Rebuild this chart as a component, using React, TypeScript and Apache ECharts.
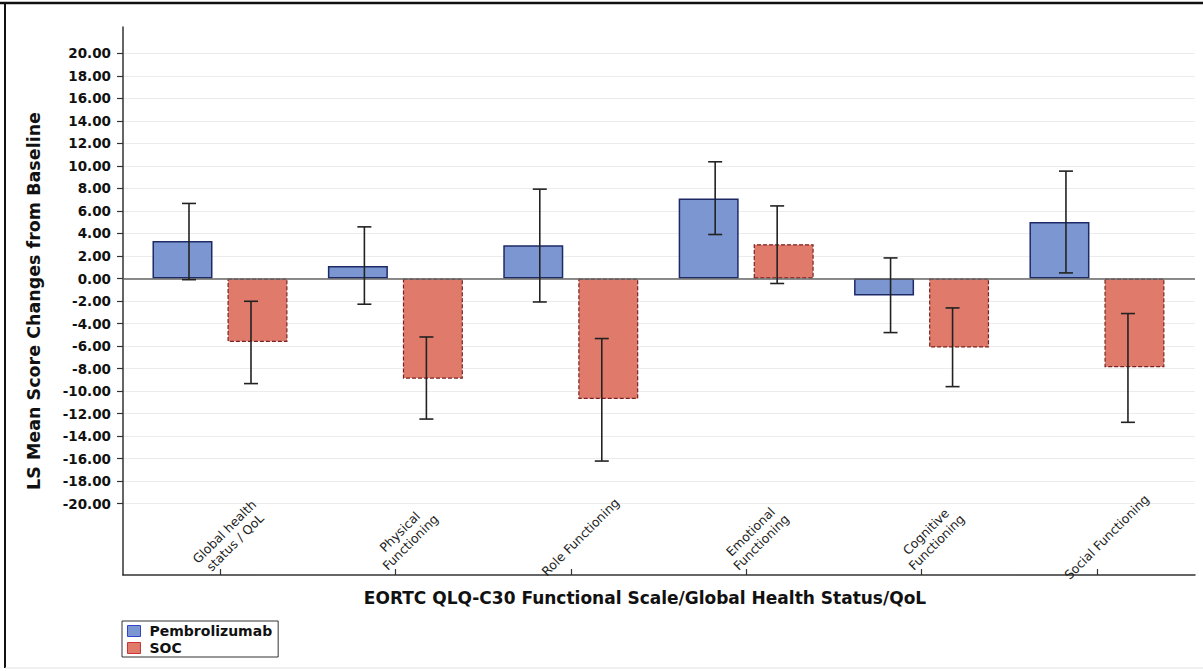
import React, { useEffect, useRef } from "react";
import * as echarts from "echarts";

const categories = [
  "Global health\nstatus / QoL",
  "Physical\nFunctioning",
  "Role Functioning",
  "Emotional\nFunctioning",
  "Cognitive\nFunctioning",
  "Social Functioning",
];
const pembroMean = [3.34, 1.12, 2.96, 7.11, -1.51, 5.03];
const pembroLow = [-0.1, -2.28, -2.08, 3.91, -4.8, 0.5];
const pembroHigh = [6.67, 4.59, 7.94, 10.37, 1.83, 9.54];
const socMean = [-5.63, -8.89, -10.7, 3.05, -6.13, -7.88];
const socLow = [-9.33, -12.48, -16.21, -0.44, -9.6, -12.77];
const socHigh = [-2.02, -5.19, -5.33, 6.45, -2.61, -3.11];
const yTicks = [-20, -18, -16, -14, -12, -10, -8, -6, -4, -2, 0, 2, 4, 6, 8, 10, 12, 14, 16, 18, 20];

const FONT = "DejaVu Sans";
const LABEL_SHIFT = 0.055;

function errRenderer(offset: number) {
  return (params: any, api: any) => {
    const xv = api.value(0);
    const x = api.coord([xv, 0])[0] + offset;
    const yLo = api.coord([xv, api.value(1)])[1];
    const yHi = api.coord([xv, api.value(2)])[1];
    const style = { stroke: "#222", lineWidth: 1.6 };
    return {
      type: "group",
      children: [
        { type: "line", shape: { x1: x, y1: yHi, x2: x, y2: yLo }, style },
        { type: "line", shape: { x1: x - 7, y1: yHi, x2: x + 7, y2: yHi }, style },
        { type: "line", shape: { x1: x - 7, y1: yLo, x2: x + 7, y2: yLo }, style },
      ],
    };
  };
}

export default function App() {
  const ref = useRef<HTMLDivElement>(null);
  useEffect(() => {
    if (!ref.current) return;
    const chart = echarts.init(ref.current, undefined, { renderer: "svg" });
    const idx = categories.map((_, i) => i);
    const option: any = {
      animation: false,
      backgroundColor: "#fff",
      textStyle: { fontFamily: FONT },
      grid: { left: 123, right: 8, top: 27, bottom: 96, containLabel: false, outerBoundsMode: "none" },
      legend: {
        left: 122,
        top: 621,
        orient: "vertical",
        itemGap: 3,
        itemWidth: 13,
        itemHeight: 11,
        padding: [3, 6, 2, 5],
        borderColor: "#333",
        borderWidth: 1,
        textStyle: { fontFamily: FONT, fontWeight: "bold", fontSize: 14, color: "#111", padding: [0, 0, 0, 4] },
        data: [
          { name: "Pembrolizumab", icon: "rect", itemStyle: { color: "#7b96d0", borderColor: "#3344cc", borderWidth: 1, borderType: "solid" } },
          { name: "SOC", icon: "rect", itemStyle: { color: "#e07b6b", borderColor: "#cc3333", borderWidth: 1, borderType: "solid" } },
        ],
      },
      xAxis: {
        type: "value",
        min: -0.553,
        max: 5.559,
        name: "EORTC QLQ-C30 Functional Scale/Global Health Status/QoL",
        nameLocation: "middle",
        nameGap: 8,
        nameTextStyle: {
          fontFamily: FONT,
          fontWeight: "bold",
          fontSize: 17,
          color: "#111",
          verticalAlign: "top",
          padding: [0, 28, 0, 0],
        },
        axisLine: { show: true, onZero: false, lineStyle: { color: "#333", width: 1.5 } },
        axisTick: { show: true, inside: true, length: 6, customValues: idx, lineStyle: { color: "#333", width: 1.2 } },
        axisLabel: {
          inside: true,
          rotate: 45,
          margin: 38,
          align: "center",
          verticalAlign: "middle",
          lineHeight: 15,
          fontFamily: FONT,
          fontSize: 12.5,
          color: "#222",
          customValues: idx.map((i) => i + LABEL_SHIFT),
          formatter: (v: number) => categories[Math.round(v)] ?? "",
        },
        splitLine: { show: false },
      },
      yAxis: {
        type: "value",
        min: -26.33,
        max: 22.34,
        name: "LS Mean Score Changes from Baseline",
        nameLocation: "middle",
        nameGap: 80,
        nameTextStyle: { fontFamily: FONT, fontWeight: "bold", fontSize: 17.5, color: "#111" },
        axisLine: { show: true, onZero: false, lineStyle: { color: "#333", width: 1.5 } },
        axisTick: { show: true, length: 6, customValues: yTicks, lineStyle: { color: "#333", width: 1.2 } },
        axisLabel: {
          margin: 12,
          fontFamily: FONT,
          fontWeight: "bold",
          fontSize: 13.5,
          color: "#111",
          customValues: yTicks,
          formatter: (v: number) => v.toFixed(2),
        },
        splitLine: { show: false },
      },
      series: [
        {
          name: "grid",
          type: "line",
          data: [],
          silent: true,
          z: 0,
          markLine: {
            silent: true,
            symbol: "none",
            z: 0,
            label: { show: false },
            lineStyle: { color: "#ececec", width: 1, type: "solid" },
            data: yTicks.map((t) => ({ yAxis: t })),
          },
        },
        {
          name: "Pembrolizumab",
          type: "bar",
          barWidth: 60,
          barGap: "25%",
          z: 2,
          itemStyle: { color: "#7b96d0", borderColor: "#1e2a66", borderWidth: 1.5 },
          data: pembroMean.map((v, i) => [i, v]),
        },
        {
          name: "SOC",
          type: "bar",
          barWidth: 60,
          barGap: "25%",
          z: 2,
          itemStyle: { color: "#e07b6b", borderColor: "#7a2222", borderWidth: 1.2, borderType: [4, 2] },
          data: socMean.map((v, i) => [i, v]),
          markLine: {
            silent: true,
            symbol: "none",
            z: 3,
            label: { show: false },
            lineStyle: { color: "#666", width: 1.5, type: "solid" },
            data: [{ yAxis: 0 }],
          },
        },
        {
          name: "pembroErr",
          type: "custom",
          silent: true,
          z: 4,
          clip: false,
          renderItem: errRenderer(-31),
          encode: { x: 0, y: [1, 2] },
          data: pembroMean.map((_, i) => [i, pembroLow[i], pembroHigh[i]]),
        },
        {
          name: "socErr",
          type: "custom",
          silent: true,
          z: 4,
          clip: false,
          renderItem: errRenderer(31),
          encode: { x: 0, y: [1, 2] },
          data: socMean.map((_, i) => [i, socLow[i], socHigh[i]]),
        },
      ],
      graphic: [
        { type: "line", shape: { x1: 0, y1: 3, x2: 1203, y2: 3 }, style: { stroke: "#111", lineWidth: 2.5 } },
        { type: "line", shape: { x1: 5, y1: 2, x2: 5, y2: 668 }, style: { stroke: "#111", lineWidth: 2 } },
        { type: "line", shape: { x1: 5, y1: 668, x2: 1203, y2: 668 }, style: { stroke: "#e2e2e2", lineWidth: 1 } },
      ],
    };
    chart.setOption(option);
    return () => chart.dispose();
  }, []);
  return (
    <div
      ref={ref}
      style={{ position: "fixed", left: 0, top: 0, width: 1203, height: 671, background: "#fff" }}
    />
  );
}
